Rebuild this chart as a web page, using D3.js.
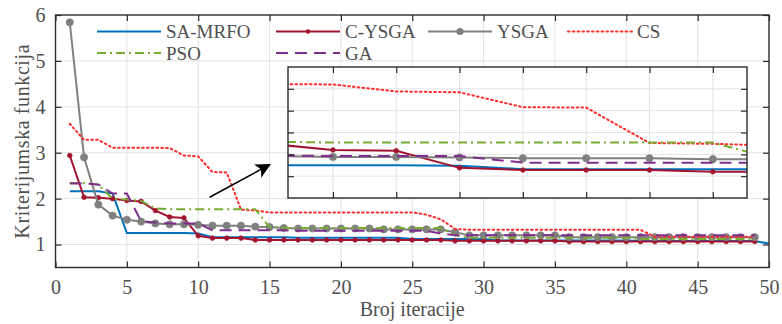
<!DOCTYPE html>
<html><head><meta charset="utf-8">
<script src="https://cdn.jsdelivr.net/npm/d3@7"></script>
<style>
@font-face{font-family:"ChartSerif";src:local("Liberation Serif"),local("LiberationSerif"),local("LiberationSerif-Regular");}
body{margin:0;background:#fff}
</style>
</head><body>
<svg id="chart" width="782" height="324" style="font-family:'Liberation Serif','ChartSerif'"></svg>
<script>
// ---------------- DATA ----------------
const xTicks = [0,5,10,15,20,25,30,35,40,45,50];
const yTicks = [1,2,3,4,5,6];
const insetXTicks = [8,9,10,11,12,13,14];
const insetYTicks = [1,1.5,2,2.5,3];
const seriesNames = ["SA-MRFO","C-YSGA","YSGA","CS","PSO","GA"];

const saMrfo = [2.16,2.16,2.16,2.11,1.25,1.25,1.25,1.25,1.25,1.24,
  1.16,1.16,1.16,1.16,1.16,1.16,1.15,1.15,1.15,1.15,
  1.15,1.15,1.15,1.15,1.12,1.12,1.12,1.12,1.12,1.12,
  1.09,1.09,1.09,1.09,1.09,1.09,1.09,1.09,1.09,1.09,
  1.075,1.075,1.075,1.075,1.075,1.075,1.075,1.075,1.075,1.02];
const cYsga = [2.94,2.03,2.02,2.0,1.96,1.94,1.74,1.6,1.58,1.19,
  1.14,1.14,1.14,1.1,1.1,1.1,1.1,1.1,1.1,1.1,
  1.1,1.1,1.1,1.1,1.1,1.1,1.1,1.08,1.08,1.08,
  1.08,1.08,1.08,1.08,1.08,1.065,1.065,1.065,1.065,1.065,
  1.065,1.065,1.065,1.065,1.065,1.065,1.065,1.065,1.065];
const ysga = [5.84,2.9,1.87,1.63,1.54,1.5,1.46,1.44,1.44,1.43,
  1.41,1.41,1.41,1.39,1.38,1.36,1.35,1.35,1.35,1.35,
  1.35,1.35,1.33,1.33,1.33,1.33,1.33,1.27,1.2,1.2,
  1.2,1.2,1.2,1.2,1.2,1.16,1.16,1.16,1.16,1.16,
  1.16,1.16,1.16,1.16,1.16,1.16,1.16,1.16,1.16];
const cs = [3.63,3.28,3.28,3.11,3.11,3.11,3.11,3.1,2.94,2.92,
  2.58,2.57,1.76,1.74,1.7,1.7,1.7,1.7,1.7,1.7,
  1.7,1.7,1.7,1.7,1.7,1.65,1.55,1.34,1.32,1.32,
  1.32,1.32,1.32,1.32,1.32,1.32,1.32,1.32,1.32,1.32,
  1.32,1.17,1.17,1.17,1.17,1.17,1.17,1.17,1.17];
const pso = [2.34,2.34,2.3,2.0,1.98,1.95,1.79,1.77,1.77,1.77,
  1.77,1.77,1.77,1.77,1.38,1.36,1.36,1.36,1.36,1.36,
  1.36,1.36,1.36,1.36,1.36,1.36,1.36,1.2,1.15,1.15,
  1.15,1.15,1.15,1.15,1.15,1.15,1.15,1.15,1.15,1.15,
  1.12,1.12,1.12,1.12,1.12,1.12,1.12,1.12,1.12];
const ga = [2.33,2.33,2.31,2.11,2.11,1.51,1.48,1.46,1.46,1.46,
  1.31,1.31,1.31,1.31,1.31,1.31,1.3,1.3,1.3,1.3,
  1.3,1.3,1.3,1.3,1.3,1.3,1.24,1.2,1.2,1.2,
  1.2,1.2,1.2,1.2,1.2,1.2,1.2,1.2,1.2,1.2,
  1.2,1.2,1.2,1.2,1.2,1.2,1.2,1.2,1.2];
const arrowFrom = [10.8, 2.03];
const arrowTo = [15.0, 2.74];

// ---------------- STYLE / LAYOUT ----------------
const FONT = "'Liberation Serif','ChartSerif'";
const TEXTC = "#505050";
const styles = {
  "SA-MRFO":{color:"#0072BD",dash:null,marker:null},
  "C-YSGA":{color:"#A2142F",dash:null,marker:"dot"},
  "YSGA":{color:"#808080",dash:null,marker:"circle"},
  "CS":{color:"#FF2A2A",dash:"1.6,3.2",marker:null},
  "PSO":{color:"#77AC30",dash:"9,4,2,4",marker:null},
  "GA":{color:"#7E2F8E",dash:"12,7",marker:null}
};
const valuesByName = {"SA-MRFO":saMrfo,"C-YSGA":cYsga,"YSGA":ysga,"CS":cs,"PSO":pso,"GA":ga};

const svg = d3.select("#chart");
const P = {l:55.5, r:769, t:15, b:267.5};
const x = d3.scaleLinear().domain([0,50]).range([P.l,P.r]);
const y = d3.scaleLinear().domain([0.5,6]).range([P.b,P.t]);

const defs = svg.append("defs");
defs.append("clipPath").attr("id","clipMain").append("rect")
  .attr("x",P.l).attr("y",P.t).attr("width",P.r-P.l).attr("height",P.b-P.t);

const grid = svg.append("g").attr("stroke","#e3e3e3").attr("stroke-width",1);
grid.selectAll(".gx").data(xTicks.filter(d=>d>0&&d<50)).join("line")
  .attr("x1",d=>x(d)).attr("x2",d=>x(d)).attr("y1",P.t).attr("y2",P.b);
grid.selectAll(".gy").data(yTicks.filter(d=>d<6)).join("line")
  .attr("y1",d=>y(d)).attr("y2",d=>y(d)).attr("x1",P.l).attr("x2",P.r);

function drawSeries(g, xs, ys, clipId, lw){
  const gg = g.append("g").attr("clip-path",`url(#${clipId})`);
  seriesNames.forEach(name=>{
    const st = styles[name];
    const data = valuesByName[name].map((v,i)=>[i+1,v]);
    const line = d3.line().x(d=>xs(d[0])).y(d=>ys(d[1]));
    gg.append("path").attr("d",line(data)).attr("fill","none")
      .attr("stroke",st.color).attr("stroke-width",lw)
      .attr("stroke-dasharray",st.dash).attr("stroke-linecap",st.dash&&st.dash.startsWith("1.6")?"round":"butt");
    if(st.marker){
      gg.selectAll(null).data(data).join("circle")
        .attr("cx",d=>xs(d[0])).attr("cy",d=>ys(d[1]))
        .attr("r",st.marker==="dot"?2.3:3.6)
        .attr("fill",st.color).attr("stroke",st.color).attr("stroke-width",0.8);
    }
  });
}
drawSeries(svg, x, y, "clipMain", 2);

function frameAxes(g, xs, ys, xt, yt, labels){
  const [x0,x1]=xs.range(), [y0,y1]=ys.range();
  const b = g.append("g").attr("transform",`translate(0,${y0})`)
    .call(d3.axisBottom(xs).tickValues(xt).tickSize(-6).tickPadding(12).tickFormat(labels?d3.format("d"):""));
  const t = g.append("g").attr("transform",`translate(0,${y1})`)
    .call(d3.axisTop(xs).tickValues(xt).tickSize(-6).tickFormat(""));
  const l = g.append("g").attr("transform",`translate(${x0},0)`)
    .call(d3.axisLeft(ys).tickValues(yt).tickSize(-6).tickPadding(10).tickFormat(labels?d3.format("d"):""));
  const r = g.append("g").attr("transform",`translate(${x1},0)`)
    .call(d3.axisRight(ys).tickValues(yt).tickSize(-6).tickFormat(""));
  [b,t,l,r].forEach(a=>{
    a.attr("font-family",null).attr("font-size",null);
    a.select(".domain").remove();
    a.selectAll(".tick line").attr("stroke","#2b2b2b").attr("stroke-width",1.2);
    a.selectAll("text").attr("font-size",20).attr("fill",TEXTC).style("font-family",FONT);
  });
  g.append("rect").attr("x",x0).attr("y",y1).attr("width",x1-x0).attr("height",y0-y1)
    .attr("fill","none").attr("stroke","#2b2b2b").attr("stroke-width",1.4);
}
frameAxes(svg.append("g"), x, y, xTicks, yTicks, true);

svg.append("text").attr("x",(P.l+P.r)/2).attr("y",316).attr("text-anchor","middle")
  .attr("font-size",20).attr("fill",TEXTC).style("font-family",FONT)
  .text("Broj iteracije");
svg.append("text").attr("transform",`translate(29,${(P.t+P.b)/2}) rotate(-90)`)
  .attr("text-anchor","middle").attr("font-size",20).attr("fill",TEXTC).style("font-family",FONT)
  .attr("letter-spacing","0.6").text("Kriterijumska funkcija");

// legend
const legCols=[97,276,428,568], legRows=[31.5,53], legLine=64;
seriesNames.forEach((name,i)=>{
  const st=styles[name];
  const lx=legCols[i%4], ly=legRows[Math.floor(i/4)];
  const g=svg.append("g");
  g.append("line").attr("x1",lx).attr("x2",lx+legLine).attr("y1",ly).attr("y2",ly)
    .attr("stroke",st.color).attr("stroke-width",2).attr("stroke-dasharray",st.dash)
    .attr("stroke-linecap",st.dash&&st.dash.startsWith("1.6")?"round":"butt");
  if(st.marker) g.append("circle").attr("cx",lx+legLine/2).attr("cy",ly)
    .attr("r",st.marker==="dot"?2.3:3.6).attr("fill",st.color);
  g.append("text").attr("x",lx+legLine+5).attr("y",ly+6.5).attr("font-size",19)
    .attr("fill",TEXTC).style("font-family",FONT).text(name);
});

// inset
const I = {l:288, r:747, t:67, b:198};
const xi = d3.scaleLinear().domain([7.29,14.54]).range([I.l,I.r]);
const yi = d3.scaleLinear().domain([0.5,3.5]).range([I.b,I.t]);
defs.append("clipPath").attr("id","clipInset").append("rect")
  .attr("x",I.l).attr("y",I.t).attr("width",I.r-I.l).attr("height",I.b-I.t);
const ig = svg.append("g");
ig.append("rect").attr("x",I.l).attr("y",I.t).attr("width",I.r-I.l).attr("height",I.b-I.t).attr("fill","#fff");
const igrid = ig.append("g").attr("stroke","#e3e3e3");
igrid.selectAll("line.a").data(insetXTicks).join("line").attr("class","a")
  .attr("x1",d=>xi(d)).attr("x2",d=>xi(d)).attr("y1",I.t).attr("y2",I.b);
igrid.selectAll("line.b").data(insetYTicks).join("line").attr("class","b")
  .attr("y1",d=>yi(d)).attr("y2",d=>yi(d)).attr("x1",I.l).attr("x2",I.r);
drawSeries(ig, xi, yi, "clipInset", 2);
frameAxes(ig.append("g"), xi, yi, insetXTicks, insetYTicks, false);

// arrow
defs.append("marker").attr("id","ah").attr("viewBox","0 0 10 10").attr("refX",9).attr("refY",5)
  .attr("markerWidth",17).attr("markerHeight",15).attr("markerUnits","userSpaceOnUse")
  .attr("orient","auto").append("path").attr("d","M0,0 L10,5 L0,10 L2.5,5 Z").attr("fill","#000");
svg.append("line").attr("x1",x(arrowFrom[0])).attr("y1",y(arrowFrom[1]))
  .attr("x2",x(arrowTo[0])).attr("y2",y(arrowTo[1]))
  .attr("stroke","#000").attr("stroke-width",1.5).attr("marker-end","url(#ah)");
</script>
</body></html>
